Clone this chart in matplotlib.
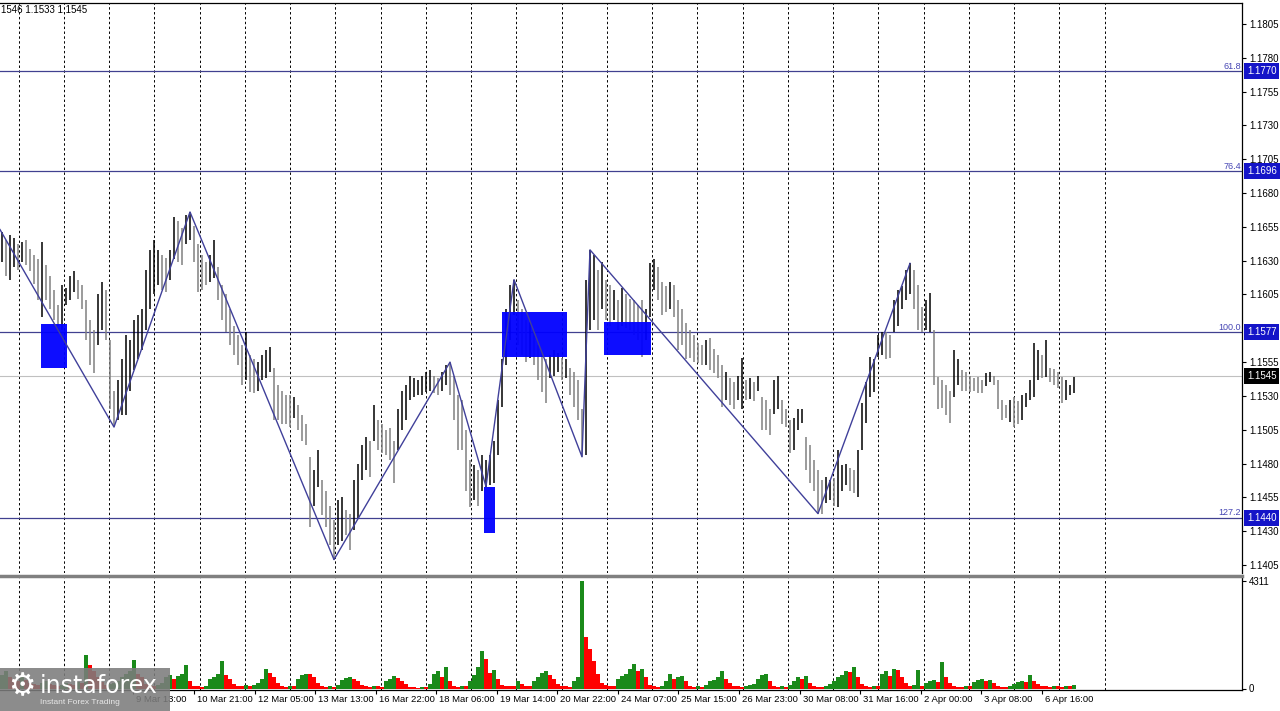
#!/usr/bin/env python

import numpy as np
import matplotlib
matplotlib.use('Agg')
import matplotlib.pyplot as plt
import matplotlib.transforms as mtransforms
from matplotlib.patches import Rectangle
from matplotlib.lines import Line2D

# bar highs / lows as the digits after "1.1" (653 -> 1.1653), one bar every step
high_pts = [
  651, 645, 649, 647, 642, 644, 645, 639, 634, 631,
  644, 627, 619, 608, 597, 612, 610, 619, 622, 616,
  612, 601, 586, 579, 605, 614, 608, 571, 534, 542,
  557, 575, 571, 586, 590, 594, 623, 638, 645, 638,
  634, 632, 638, 662, 659, 654, 664, 666, 656, 642,
  634, 629, 634, 645, 625, 612, 605, 594, 582, 575,
  568, 577, 560, 557, 555, 560, 564, 566, 551, 538,
  534, 531, 531, 529, 523, 516, 509, 485, 475, 490,
  468, 460, 449, 438, 453, 455, 446, 443, 468, 480,
  494, 500, 497, 523, 512, 509, 505, 506, 497, 520,
  534, 538, 545, 543, 542, 545, 548, 549, 545, 543,
  548, 553, 555, 545, 531, 527, 505, 483, 479, 475,
  486, 483, 486, 497, 527, 557, 594, 612, 616, 601,
  594, 586, 585, 579, 568, 562, 557, 560, 564, 562,
  558, 557, 551, 548, 542, 520, 616, 638, 634, 623,
  629, 616, 612, 608, 601, 610, 605, 602, 601, 597,
  601, 594, 628, 631, 625, 614, 611, 614, 612, 601,
  594, 584, 579, 575, 569, 568, 571, 573, 565, 560,
  553, 548, 543, 540, 545, 558, 542, 543, 540, 545,
  529, 527, 520, 542, 545, 527, 520, 512, 514, 520,
  520, 500, 494, 483, 475, 468, 470, 468, 469, 490,
  479, 480, 477, 475, 490, 525, 540, 559, 557, 575,
  577, 577, 575, 601, 608, 611, 623, 628, 623, 612,
  596, 601, 606, 579, 544, 542, 538, 534, 564, 557,
  549, 548, 545, 543, 544, 542, 547, 548, 545, 542,
  527, 523, 527, 529, 526, 531, 532, 542, 569, 564,
  560, 571, 551, 550, 548, 544, 542, 538, 544]

low_pts = [
  629, 619, 616, 625, 623, 629, 627, 622, 613, 601,
  588, 601, 594, 586, 582, 579, 597, 601, 607, 602,
  594, 571, 553, 547, 568, 579, 571, 520, 507, 512,
  516, 516, 534, 549, 557, 564, 579, 594, 605, 612,
  608, 607, 616, 631, 629, 627, 642, 645, 629, 607,
  608, 612, 614, 617, 601, 586, 577, 568, 560, 553,
  538, 542, 533, 532, 534, 542, 543, 548, 512, 512,
  509, 509, 507, 514, 505, 497, 494, 433, 449, 463,
  442, 433, 420, 409, 420, 423, 427, 416, 431, 440,
  468, 475, 470, 497, 490, 488, 486, 483, 466, 490,
  505, 512, 527, 529, 531, 531, 533, 534, 532, 531,
  534, 538, 531, 512, 490, 490, 460, 448, 453, 449,
  460, 463, 464, 466, 486, 522, 553, 571, 590, 568,
  560, 555, 558, 553, 542, 533, 525, 543, 545, 548,
  542, 543, 531, 522, 512, 485, 486, 579, 586, 579,
  594, 586, 582, 586, 579, 582, 580, 579, 575, 571,
  559, 571, 588, 608, 601, 590, 592, 594, 588, 564,
  568, 557, 558, 555, 554, 553, 553, 549, 547, 543,
  522, 527, 523, 520, 527, 520, 527, 528, 526, 534,
  505, 505, 501, 517, 520, 509, 507, 488, 490, 505,
  510, 475, 466, 460, 443, 443, 451, 453, 449, 448,
  460, 464, 460, 458, 455, 490, 510, 529, 533, 559,
  560, 557, 558, 577, 582, 594, 601, 605, 594, 579,
  577, 579, 577, 538, 520, 521, 516, 510, 529, 538,
  534, 534, 533, 534, 532, 532, 537, 540, 538, 520,
  512, 514, 511, 507, 509, 512, 522, 527, 529, 542,
  543, 544, 540, 538, 536, 525, 527, 531, 532]

# tick volume per bar
volumes = [
  560, 720, 480, 400, 320, 480, 360, 240, 200, 160,
  240, 320, 200, 160, 120, 160, 240, 200, 160, 280,
  240, 1360, 960, 720, 480, 280, 160, 200, 240, 320,
  480, 600, 720, 1160, 600, 480, 200, 160, 120, 160,
  240, 480, 560, 400, 520, 600, 960, 320, 120, 120,
  80, 120, 400, 480, 600, 1120, 560, 400, 200, 120,
  120, 160, 120, 160, 240, 400, 800, 640, 480, 240,
  120, 80, 120, 120, 400, 560, 600, 600, 480, 240,
  120, 80, 120, 80, 160, 360, 440, 480, 400, 320,
  160, 120, 80, 120, 120, 80, 320, 400, 520, 440,
  320, 200, 80, 80, 40, 80, 80, 200, 600, 720,
  480, 880, 320, 120, 80, 120, 120, 320, 560, 880,
  1520, 1200, 640, 760, 400, 160, 120, 120, 120, 320,
  200, 120, 120, 320, 480, 640, 720, 560, 400, 200,
  120, 120, 80, 320, 480, 4311, 2080, 1600, 1120, 600,
  240, 160, 120, 120, 400, 520, 600, 800, 1000, 720,
  800, 480, 160, 120, 80, 120, 320, 600, 400, 480,
  520, 320, 120, 80, 120, 80, 160, 320, 360, 480,
  720, 400, 240, 120, 120, 80, 120, 160, 200, 400,
  560, 600, 320, 120, 80, 120, 80, 160, 320, 480,
  400, 520, 240, 120, 80, 80, 120, 200, 320, 480,
  560, 720, 680, 880, 480, 200, 120, 80, 120, 120,
  600, 720, 520, 800, 760, 480, 240, 120, 160, 760,
  120, 240, 320, 360, 280, 1080, 480, 240, 120, 80,
  80, 120, 120, 280, 360, 400, 320, 360, 240, 120,
  80, 80, 120, 200, 280, 320, 280, 560, 320, 200,
  120, 120, 80, 120, 120, 80, 120, 120, 160]

# zigzag swing points (bar index, price)
zz_bar = [-0.5, 28, 47, 83, 112, 121, 128, 145, 147, 204, 227]
zz_price = [1.1653, 1.1507, 1.1666, 1.1409, 1.1555, 1.1463, 1.1616,
            1.1485, 1.1638, 1.1443, 1.1628]

# fibonacci levels
fib_names = ['61.8', '76.4', '100.0', '127.2']
fib_prices = [1.1770, 1.1696, 1.1577, 1.1440]
last_price = 1.1545

# blue zones (bar from, bar to, price low, price high)
zone_from = [9.75, 120.5, 125.0, 150.5]
zone_to = [16.25, 123.25, 141.25, 162.25]
zone_low = [1.1551, 1.1429, 1.1559, 1.1560]
zone_high = [1.1583, 1.1463, 1.1592, 1.1585]

price_ticks = [1.1405, 1.1430, 1.1455, 1.1480, 1.1505, 1.1530, 1.1555,
               1.1605, 1.1630, 1.1655, 1.1680, 1.1705, 1.1730, 1.1755,
               1.1780, 1.1805]

# first two date labels sit fully under the logo and are not shown
date_labels = ['9 Mar 13:00', '10 Mar 21:00',
               '12 Mar 05:00', '13 Mar 13:00', '16 Mar 22:00', '18 Mar 06:00',
               '19 Mar 14:00', '20 Mar 22:00', '24 Mar 07:00', '25 Mar 15:00',
               '26 Mar 23:00', '30 Mar 08:00', '31 Mar 16:00', '2 Apr 00:00',
               '3 Apr 08:00', '6 Apr 16:00']

header = '1546 1.1533 1.1545'

W, H = 1280, 711


def fx(x):
  return x / W


def fy(y):
  return 1 - y / H


def main():
  plt.rcParams['font.family'] = ['Liberation Sans', 'DejaVu Sans']

  highs = 1.1 + np.array(high_pts) / 10000.0
  lows = 1.1 + np.array(low_pts) / 10000.0
  vol = np.array(volumes)
  n = len(highs)
  assert len(lows) == n and len(vol) == n
  idx = np.arange(n)

  fig = plt.figure(figsize=(12.8, 7.11), dpi=100)
  fig.patch.set_facecolor('white')

  ax = fig.add_axes([0, fy(573), fx(1242), (573 - 3) / H])
  axv = fig.add_axes([0, fy(690), fx(1242), (690 - 578) / H])

  xmax = 310
  for a in (ax, axv):
    a.set_xlim(-0.5, xmax)
    a.set_facecolor('white')
    a.spines['left'].set_visible(False)
    for s in a.spines.values():
      s.set_color('black')
      s.set_linewidth(0.9)
    # dashed vertical grid
    for k in range(25):
      a.axvline(4.125 + 11.3125 * k, color='black', lw=0.7,
                ls=(0, (2.5, 2.5)), zorder=0)

  ax.spines['bottom'].set_visible(False)
  axv.spines['top'].set_visible(False)

  # price bars
  mids = (highs + lows) / 2
  up = np.r_[True, mids[1:] >= mids[:-1]]
  bar_col = np.where(up, '#000000', '#808080')
  ax.vlines(idx, lows, highs, colors=bar_col, lw=1.1, zorder=2)

  ax.set_ylim(1.13991, 1.18205)

  # fib levels and bid line
  for name, lvl in zip(fib_names, fib_prices):
    ax.axhline(lvl, color='#404090', lw=0.9, zorder=1)
    ax.text(0.999, lvl + 0.00004, name, transform=mtransforms.blended_transform_factory(
      ax.transAxes, ax.transData), ha='right', va='bottom', fontsize=6.5,
      color='#4646b4')
  ax.axhline(last_price, color='#c0c0c0', lw=0.8, zorder=1)

  # zones
  for x0, x1, lo, hi in zip(zone_from, zone_to, zone_low, zone_high):
    ax.add_patch(Rectangle((x0, lo), x1 - x0, hi - lo, fc='#0000ff',
                           ec='none', alpha=0.95, zorder=3))

  # zigzag
  ax.plot(zz_bar, zz_price, color='#40409a', lw=1.0, zorder=4)

  # right price scale
  ax.yaxis.tick_right()
  ax.set_yticks(price_ticks)
  ax.set_yticklabels(['%.4f' % t for t in price_ticks])
  ax.tick_params(axis='y', direction='out', length=3, width=0.8, pad=2,
                 labelsize=7, colors='black')
  ax.set_xticks([])

  tr = mtransforms.blended_transform_factory(ax.transAxes, ax.transData)
  tag_x = 1 + 5.0 / 1242
  for lvl in fib_prices:
    ax.text(tag_x, lvl, '%.4f' % lvl, transform=tr, ha='left', va='center',
            fontsize=7, color='white', clip_on=False, zorder=6,
            bbox=dict(boxstyle='square,pad=0.3', fc='#1414c8', ec='none'))
  ax.text(tag_x, last_price, '%.4f' % last_price, transform=tr, ha='left',
          va='center', fontsize=7, color='white', clip_on=False, zorder=6,
          bbox=dict(boxstyle='square,pad=0.3', fc='black', ec='none'))

  # volumes (green when rising vs previous bar, red otherwise)
  vol_up = np.r_[True, vol[1:] > vol[:-1]]
  vol_col = np.where(vol_up, '#1a8a1a', '#ff0000')
  axv.bar(idx, vol, width=1.0, color=vol_col, linewidth=0, zorder=2)
  axv.set_ylim(-60, 4420)
  axv.yaxis.tick_right()
  axv.set_yticks([0, vol.max()])
  axv.set_yticklabels(['0', str(vol.max())])
  axv.tick_params(axis='y', direction='out', length=3, width=0.8, pad=2,
                  labelsize=7, colors='black')

  date_pos = [48 + 15.14 * k for k in range(-1, 15)]
  axv.set_xticks(date_pos)
  axv.set_xticklabels([])
  axv.tick_params(axis='x', direction='out', length=3, width=0.8)
  dtr = mtransforms.offset_copy(
    mtransforms.blended_transform_factory(axv.transData, fig.transFigure),
    fig=fig, x=3, y=0, units='dots')
  for p, lab in zip(date_pos, date_labels):
    axv.text(p, fy(700), lab, transform=dtr, ha='left', va='center',
             fontsize=6.8, color='black', clip_on=False)

  # window separator
  fig.add_artist(Line2D([0, fx(1242)], [fy(575.5), fy(575.5)],
                        color='#808080', lw=2.5))

  # header
  fig.text(fx(1), fy(10), header, fontsize=7, ha='left', va='center')

  # logo
  fig.add_artist(Rectangle((0, 0), fx(170), 43.0 / H, transform=fig.transFigure,
                           fc='#7c7c7c', ec='none', alpha=0.88, zorder=10))
  fig.text(fx(8), fy(687), '\u2699', fontsize=22, color='white',
           family='DejaVu Sans', ha='left', va='center', zorder=11)
  fig.text(fx(40), fy(686), 'instaforex', fontsize=17, color='white',
           family='DejaVu Sans', ha='left', va='center', zorder=11)
  fig.text(fx(40), fy(703), 'Instant Forex Trading', fontsize=6, color='#e8e8e8',
           ha='left', va='center', zorder=11)

  fig.savefig('out.png', dpi=100, facecolor='white')


if __name__ == '__main__':
  main()
